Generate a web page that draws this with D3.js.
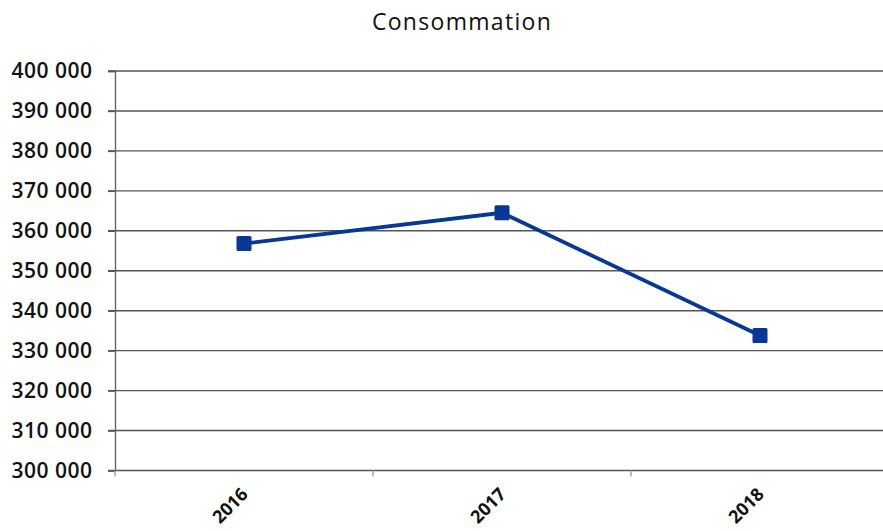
<!DOCTYPE html>
<html>
<head>
<meta charset="utf-8">
<script src="https://cdn.jsdelivr.net/npm/d3@7/dist/d3.min.js"></script>
<style>
  html, body { margin: 0; padding: 0; background: #fff; }
  svg { display: block; }
</style>
</head>
<body>
<svg id="chart" width="883" height="531"></svg>
<script>
const title = "Consommation";
const categories = ["2016", "2017", "2018"];
const values = [356800, 364500, 333800];
const yTicks = [300000, 310000, 320000, 330000, 340000, 350000, 360000, 370000, 380000, 390000, 400000];

(function () {
const svg = d3.select("#chart");
const W = 883, H = 531;
const mLeft = 115, mRight = 889, mTop = 71, mBottom = 470.5;

const fr = d3.formatLocale({ decimal: ",", thousands: " ", grouping: [3], currency: ["", " €"] });
const fmt = fr.format(",");

const x = d3.scalePoint().domain(categories).range([mLeft, mRight]).padding(0.5);
const xBand = d3.scaleBand().domain(categories).range([mLeft, mRight]);
const y = d3.scaleLinear().domain([300000, 400000]).range([mBottom, mTop]);

// gridlines
svg.append("g")
  .selectAll("line")
  .data(yTicks)
  .join("line")
  .attr("x1", mLeft - 7)
  .attr("x2", W)
  .attr("y1", d => y(d))
  .attr("y2", d => y(d))
  .attr("stroke", "#555")
  .attr("stroke-width", 1.4);

// y axis
const yAxis = svg.append("g")
  .attr("transform", `translate(${mLeft},0)`)
  .call(d3.axisLeft(y).tickValues(yTicks).tickFormat(fmt).tickSize(7).tickPadding(15.5));
yAxis.select(".domain").attr("stroke", "#666").attr("stroke-width", 1.4);
yAxis.selectAll(".tick line").attr("stroke", "#555").attr("stroke-width", 1.4);
yAxis.selectAll(".tick text")
  .attr("fill", "#111")
  .style("font-family", "'Open Sans', sans-serif")
  .style("font-size", "21px")
  .style("font-weight", "600")
  .style("letter-spacing", "0.5px");

// x axis ticks (band boundaries)
svg.append("g")
  .selectAll("line")
  .data(categories.slice(1))
  .join("line")
  .attr("x1", d => xBand(d))
  .attr("x2", d => xBand(d))
  .attr("y1", mBottom)
  .attr("y2", mBottom + 6)
  .attr("stroke", "#999")
  .attr("stroke-width", 1.3);
svg.append("line")
  .attr("x1", mLeft).attr("x2", mLeft)
  .attr("y1", mBottom).attr("y2", mBottom + 6)
  .attr("stroke", "#999").attr("stroke-width", 1.3);

// x labels
svg.append("g")
  .selectAll("text")
  .data(categories)
  .join("text")
  .attr("transform", d => `translate(${x(d) + 5},${mBottom + 25}) rotate(-45)`)
  .attr("text-anchor", "end")
  .attr("fill", "#111")
  .style("font-family", "'Open Sans', sans-serif")
  .style("font-size", "18px")
  .style("font-weight", "700")
  .text(d => d);

// line
const line = d3.line().x((d, i) => x(categories[i])).y(d => y(d));
svg.append("path")
  .datum(values)
  .attr("d", line)
  .attr("fill", "none")
  .attr("stroke", "#083894")
  .attr("stroke-width", 3.8);

// markers
svg.append("g")
  .selectAll("rect")
  .data(values)
  .join("rect")
  .attr("x", (d, i) => x(categories[i]) - 7.5)
  .attr("y", d => y(d) - 7.5)
  .attr("width", 15)
  .attr("height", 15)
  .attr("rx", 1.5)
  .attr("fill", "#083894");

// title
svg.append("text")
  .attr("x", 462)
  .attr("y", 30)
  .attr("text-anchor", "middle")
  .attr("fill", "#111")
  .style("font-family", "'Open Sans', sans-serif")
  .style("font-size", "23px")
  .style("letter-spacing", "1.3px")
  .text(title);
})();
</script>
</body>
</html>
